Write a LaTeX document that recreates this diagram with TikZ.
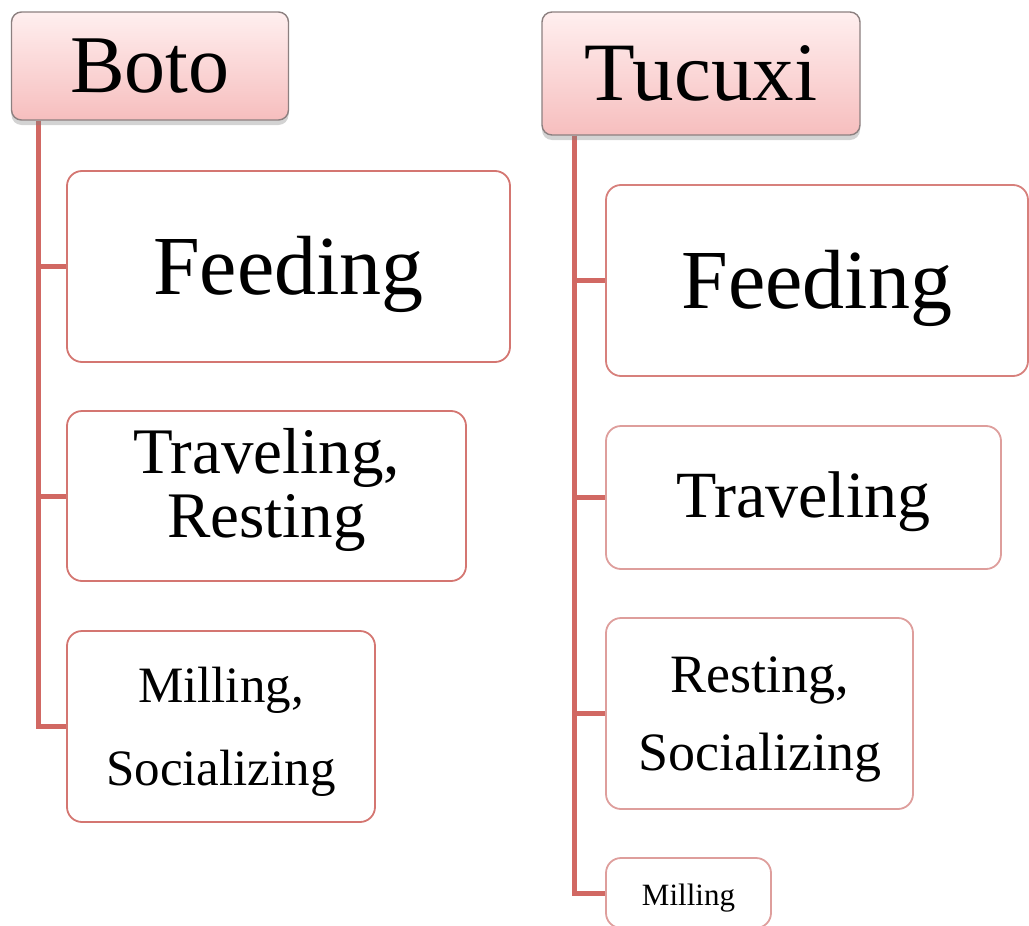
\documentclass[tikz,border=0pt]{standalone}
\usepackage{fontspec}
\setmainfont{Liberation Serif}
\usepackage{tikz}
\usetikzlibrary{shapes,calc,shadows,backgrounds}

\definecolor{trunkred}{RGB}{209,104,99}
\definecolor{leafedge}{RGB}{212,118,113}
\definecolor{leafpale}{RGB}{222,158,156}
\definecolor{headedge}{RGB}{140,128,128}
\definecolor{headtop}{RGB}{255,239,239}
\definecolor{headbot}{RGB}{246,190,190}

\newcommand{\fs}[2]{\fontsize{#1}{#2}\selectfont}

\begin{document}
\begin{tikzpicture}[
    x=0.5pt, y=-0.5pt,                               % one unit per pixel, y going down
    %–––– GLOBAL STYLE TWEAKS ––––
    header/.style = {rectangle, draw=headedge, line width=0.7pt,
                     rounded corners=5pt, inner sep=0pt,
                     top color=headtop, bottom color=headbot,
                     drop shadow={shadow xshift=0pt, shadow yshift=-2.5pt,
                                  opacity=0.35}},
    leaf/.style   = {rectangle, draw=leafedge, line width=0.9pt,
                     rounded corners=7.5pt, align=center,
                     inner sep=0pt, fill=white},
    paleleaf/.style = {leaf, draw=leafpale},
    trunk/.style  = {draw=trunkred, line width=2.5pt},
]
\useasboundingbox (0,0) rectangle (1029,926);

%–––– BOTO COLUMN ––––
\node (boto)  [header, font=\fs{41}{44}, minimum width=138.5pt, minimum height=54pt]
      at (150,66)    {Boto};

\node (bfeed) [leaf, font=\fs{42}{44}, text height=36.7pt, text depth=9.2pt,
               minimum width=221.5pt, minimum height=95.5pt]
      at (288.5,266.5) {Feeding};

% two-line boxes: height/depth counted from the last baseline
\node (btrav) [leaf, font=\fs{32.5}{32}, text height=46pt, text depth=5pt,
               minimum width=199.5pt, minimum height=85pt]
      at (266.5,496)   {Traveling,\\Resting};

\node (bmill) [leaf, font=\fs{25.5}{41.5}, text height=64pt, text depth=5.5pt,
               minimum width=154pt, minimum height=95.5pt]
      at (221,726.5)   {Milling,\\Socializing};

%–––– TUCUXI COLUMN ––––
\node (tucuxi) [header, font=\fs{41.5}{44}, minimum width=159pt, minimum height=61.5pt]
      at (701,73.5)  {Tucuxi};

\node (tfeed) [paleleaf, draw=leafedge!75!leafpale, font=\fs{42}{44},
               text height=36.7pt, text depth=9.2pt,
               minimum width=211pt, minimum height=95.5pt]
      at (817,280.5)   {Feeding};

\node (ttrav) [paleleaf, font=\fs{33}{36}, text height=27.3pt, text depth=7.3pt,
               minimum width=197.5pt, minimum height=71.5pt]
      at (803.5,497.5) {Traveling};

\node (trest) [paleleaf, font=\fs{27}{39}, text height=62.5pt, text depth=6pt,
               minimum width=153.5pt, minimum height=95.5pt]
      at (759.5,713.5) {Resting,\\Socializing};

\node (tmill) [paleleaf, font=\fs{15.5}{18}, text height=15.5pt, text depth=3.4pt,
               minimum width=82.5pt, minimum height=35pt]
      at (688.5,893)   {Milling};

%–––– CONNECTORS ––––
\begin{scope}[on background layer]
  \foreach \c in {bfeed, btrav, bmill}
    \draw[trunk] ($(boto.south west)+(27.5,0)$) |- (\c.west);
  \foreach \c in {tfeed, ttrav, trest, tmill}
    \draw[trunk] ($(tucuxi.south west)+(33,0)$) |- (\c.west);
\end{scope}
\end{tikzpicture}
\end{document}
